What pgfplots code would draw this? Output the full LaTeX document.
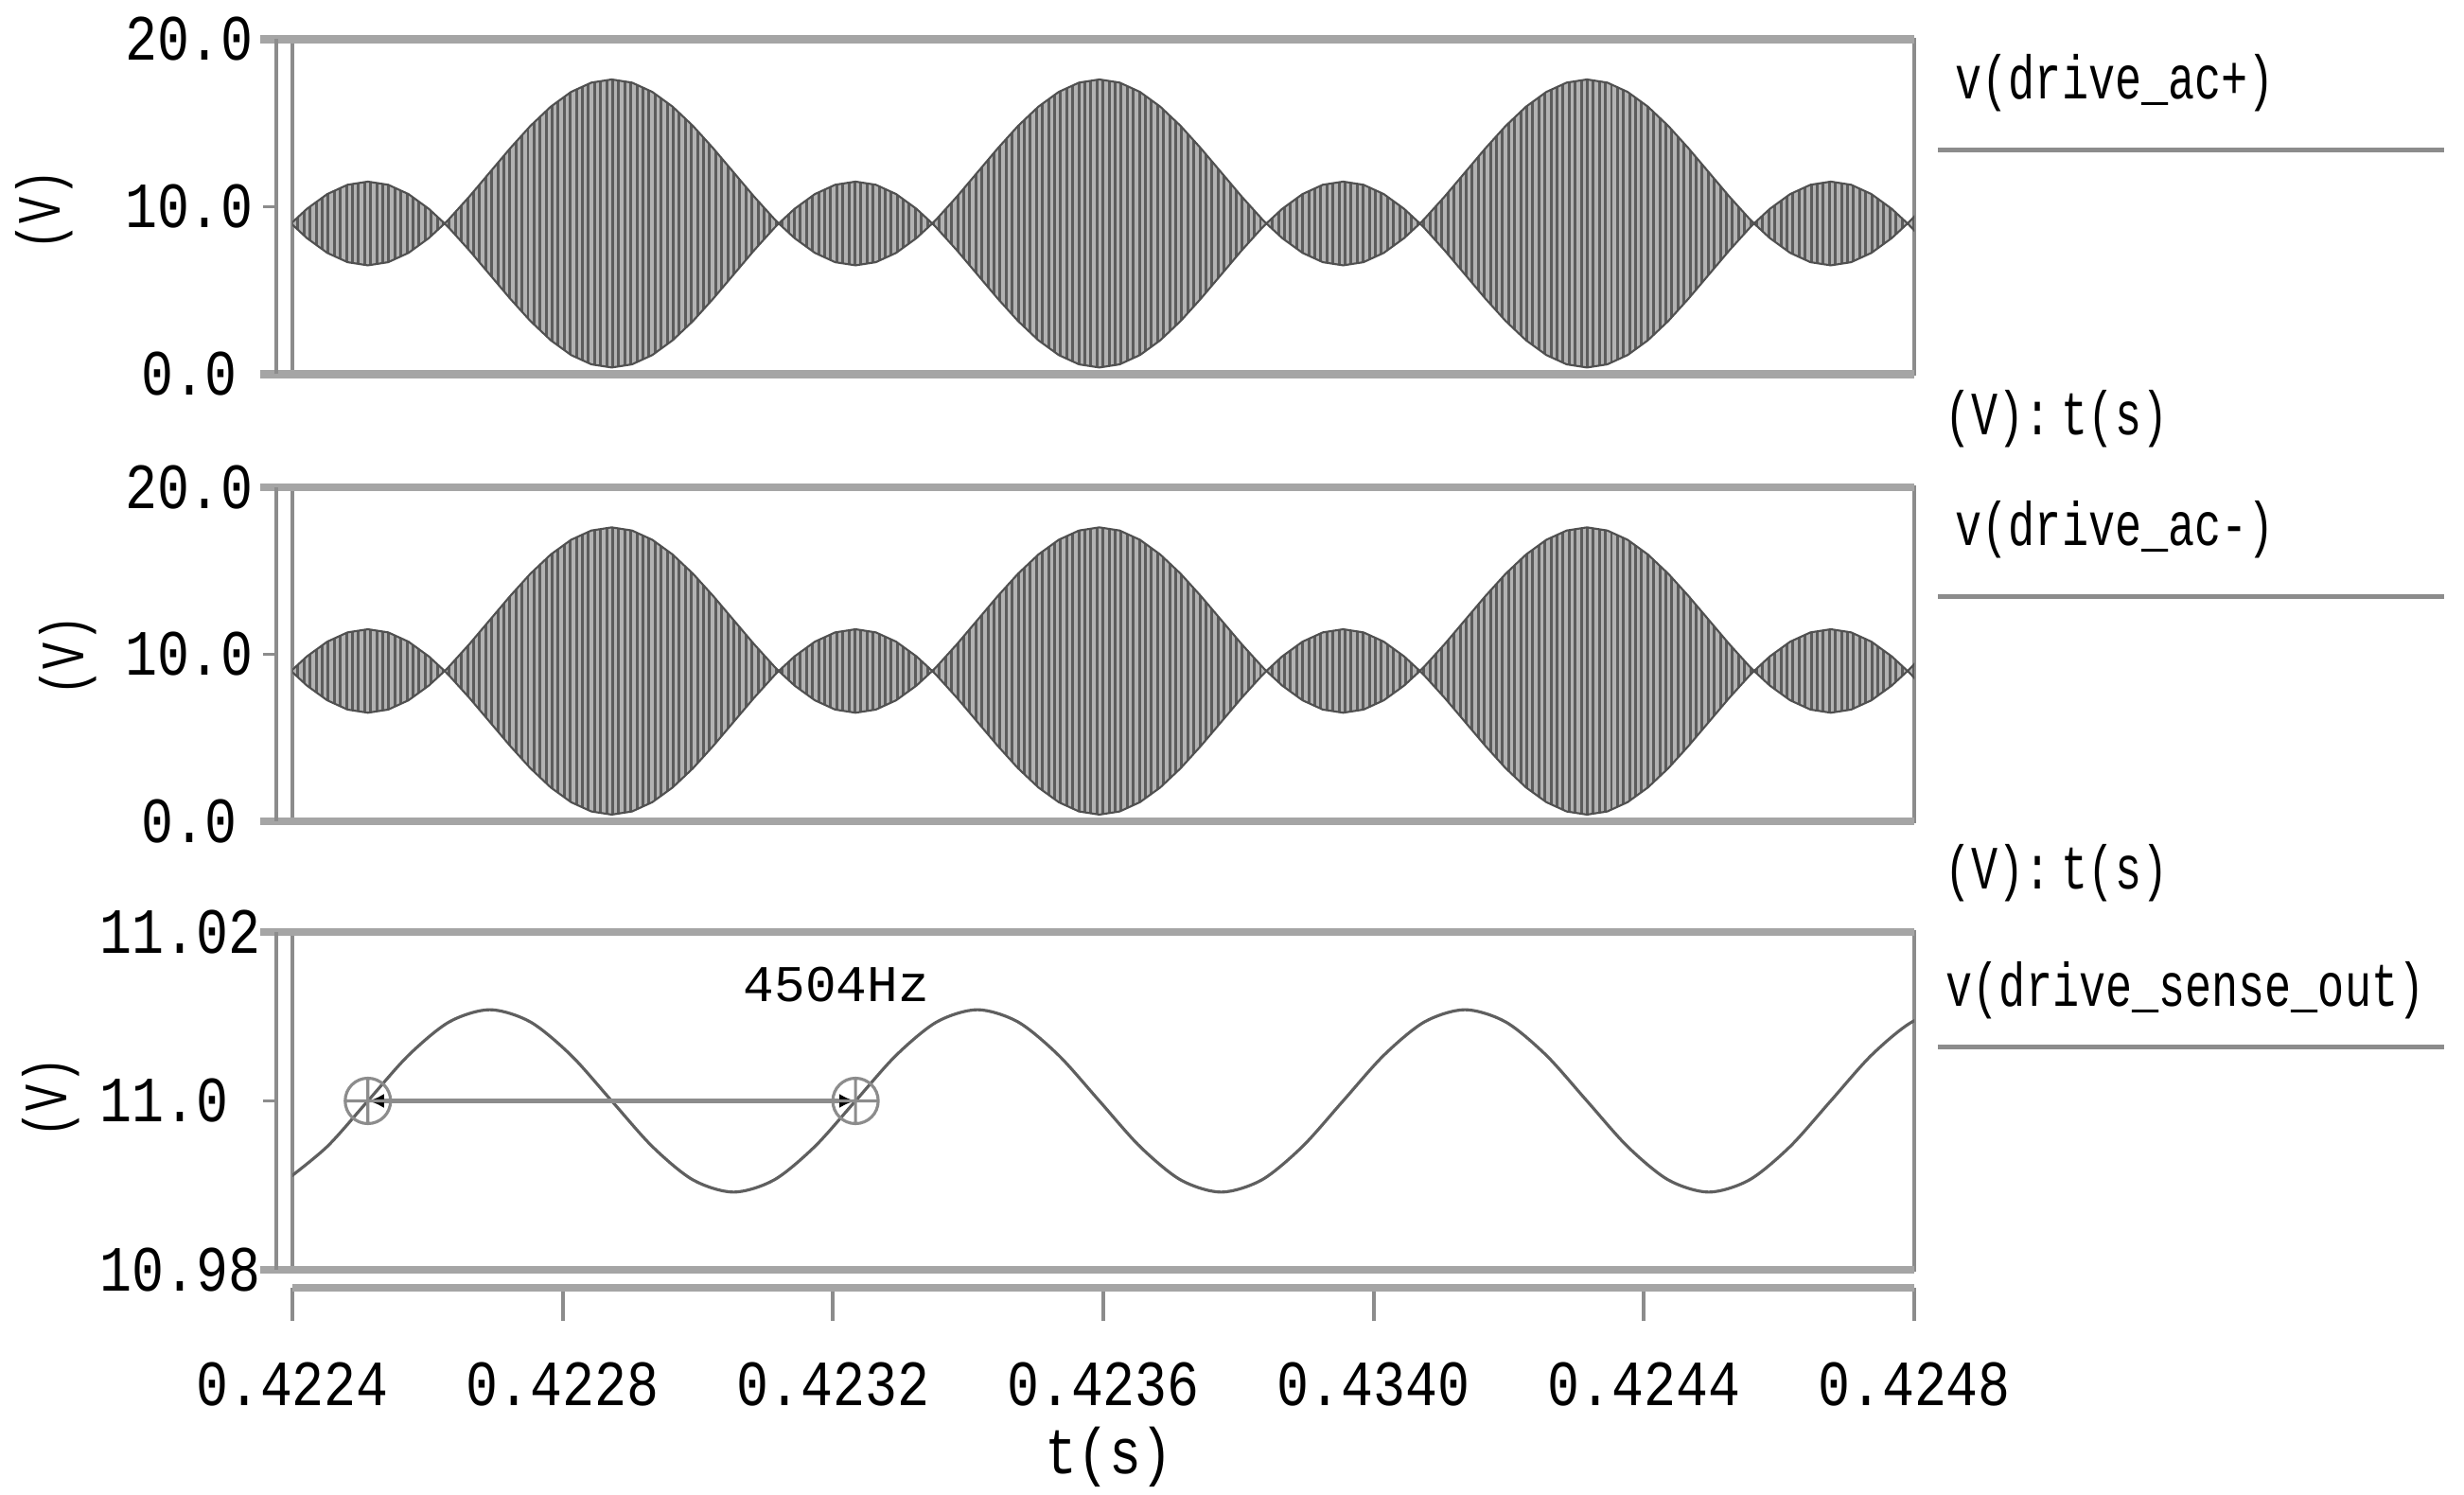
\documentclass[border=0pt]{standalone}
\usepackage{fontspec}
\usepackage{pgfplots}
\pgfplotsset{compat=1.18}
\usepackage{pgfplotstable}
\usepgfplotslibrary{fillbetween}
\usetikzlibrary{patterns,arrows.meta}

\newfontfamily\tickfont[FakeStretch=0.83]{Liberation Mono}
\newfontfamily\labfont[FakeStretch=0.72]{Liberation Mono}
\newfontfamily\hzfont{Liberation Mono}
\newcommand\tickf{\tickfont\fontsize{19.4pt}{22pt}\selectfont}
\newcommand\labf{\labfont\fontsize{18.5pt}{21pt}\selectfont}
\newcommand\hzf{\hzfont\fontsize{15.5pt}{18pt}\selectfont}

\definecolor{frameD}{RGB}{140,140,140}
\definecolor{bandC}{RGB}{165,165,165}
\definecolor{stripeL}{RGB}{178,178,178}
\definecolor{stripeD}{RGB}{92,92,92}
\definecolor{edgeC}{RGB}{80,80,80}
\definecolor{sineC}{RGB}{95,95,95}

% carrier drawn as thin vertical stripes
\pgfdeclarepatternformonly{vstripes}{\pgfqpoint{-0.1pt}{-0.1pt}}{\pgfqpoint{2pt}{1.1pt}}{\pgfqpoint{1.82pt}{1pt}}{%
  \pgfpathrectangle{\pgfqpoint{0pt}{-0.1pt}}{\pgfqpoint{0.85pt}{1.2pt}}\pgfusepath{fill}}

% envelope of v(drive_ac+/-): t in units of 0.1 ms after 0.4224 s, volts
\pgfplotstableread{
t up lo
-0.086 9.275 8.725
-0.019 9 9
0.215 9.874 8.126
0.516 10.756 7.244
0.816 11.311 6.689
1.117 11.5 6.5
1.418 11.311 6.689
1.718 10.756 7.244
2.019 9.874 8.126
2.253 9 9
2.320 9.275 8.725
2.620 10.614 7.386
2.921 12.05 5.95
3.222 13.486 4.514
3.522 14.825 3.175
3.823 15.974 2.026
4.124 16.856 1.144
4.424 17.411 0.589
4.725 17.6 0.4
5.026 17.411 0.589
5.326 16.856 1.144
5.627 15.974 2.026
5.928 14.825 3.175
6.228 13.486 4.514
6.529 12.05 5.95
6.830 10.614 7.386
7.130 9.275 8.725
7.197 9 9
7.431 9.874 8.126
7.732 10.756 7.244
8.032 11.311 6.689
8.333 11.5 6.5
8.634 11.311 6.689
8.934 10.756 7.244
9.235 9.874 8.126
9.469 9 9
9.536 9.275 8.725
9.836 10.614 7.386
10.137 12.05 5.95
10.438 13.486 4.514
10.738 14.825 3.175
11.039 15.974 2.026
11.340 16.856 1.144
11.640 17.411 0.589
11.941 17.6 0.4
12.242 17.411 0.589
12.542 16.856 1.144
12.843 15.974 2.026
13.144 14.825 3.175
13.444 13.486 4.514
13.745 12.05 5.95
14.046 10.614 7.386
14.346 9.275 8.725
14.413 9 9
14.647 9.874 8.126
14.948 10.756 7.244
15.248 11.311 6.689
15.549 11.5 6.5
15.850 11.311 6.689
16.150 10.756 7.244
16.451 9.874 8.126
16.685 9 9
16.752 9.275 8.725
17.052 10.614 7.386
17.353 12.05 5.95
17.654 13.486 4.514
17.954 14.825 3.175
18.255 15.974 2.026
18.556 16.856 1.144
18.856 17.411 0.589
19.157 17.6 0.4
19.458 17.411 0.589
19.758 16.856 1.144
20.059 15.974 2.026
20.360 14.825 3.175
20.660 13.486 4.514
20.961 12.05 5.95
21.262 10.614 7.386
21.562 9.275 8.725
21.629 9 9
21.863 9.874 8.126
22.164 10.756 7.244
22.464 11.311 6.689
22.765 11.5 6.5
23.066 11.311 6.689
23.366 10.756 7.244
23.667 9.874 8.126
23.901 9 9
23.968 9.275 8.725
24.268 10.614 7.386
}\env

% v(drive_sense_out): t as above, mV about 11.0 V
\pgfplotstableread{
t v
-0.086 -9.35
0.516 -5.4
1.117 0
1.718 5.4
2.320 9.35
2.921 10.8
3.522 9.35
4.124 5.4
4.725 0
5.326 -5.4
5.927 -9.35
6.529 -10.8
7.130 -9.35
7.731 -5.4
8.333 0
8.934 5.4
9.535 9.35
10.137 10.8
10.738 9.35
11.339 5.4
11.941 0
12.542 -5.4
13.143 -9.35
13.744 -10.8
14.346 -9.35
14.947 -5.4
15.548 0
16.150 5.4
16.751 9.35
17.352 10.8
17.954 9.35
18.555 5.4
19.156 0
19.757 -5.4
20.359 -9.35
20.960 -10.8
21.561 -9.35
22.163 -5.4
22.764 0
23.365 5.4
23.967 9.35
24.568 10.8
}\sense

\pgfplotsset{
  panel/.style={
    anchor=north west, scale only axis, width=17.14cm,
    xmin=0, xmax=24,
    axis line style={draw=frameD, line width=1pt},
    xtick=\empty, ytick pos=left,
    tick align=outside, major tick length=0.14cm,
    ytick style={draw=frameD, line width=1pt, xshift=-0.17cm},
    yticklabel style={font=\tickf, anchor=center, inner sep=0pt, xshift=-0.95cm},
  },
}

\begin{document}
\begin{tikzpicture}
% ---- v(drive_ac+)
\begin{axis}[panel, name=p1, at={(3.09cm,-0.415cm)}, height=3.54cm,
  ymin=0, ymax=20, ytick={0,10,20}, yticklabels={0.0,10.0,20.0}]
\addplot[name path=u1, draw=none] table[x=t,y=up]{\env};
\addplot[name path=l1, draw=none] table[x=t,y=lo]{\env};
\addplot[fill=stripeL] fill between[of=u1 and l1];
\addplot[pattern=vstripes, pattern color=stripeD] fill between[of=u1 and l1];
\addplot[edgeC, line width=0.6pt] table[x=t,y=up]{\env};
\addplot[edgeC, line width=0.6pt] table[x=t,y=lo]{\env};
\end{axis}

% ---- v(drive_ac-)
\begin{axis}[panel, name=p2, at={(3.09cm,-5.15cm)}, height=3.53cm,
  ymin=0, ymax=20, ytick={0,10,20}, yticklabels={0.0,10.0,20.0}]
\addplot[name path=u2, draw=none] table[x=t,y=up]{\env};
\addplot[name path=l2, draw=none] table[x=t,y=lo]{\env};
\addplot[fill=stripeL] fill between[of=u2 and l2];
\addplot[pattern=vstripes, pattern color=stripeD] fill between[of=u2 and l2];
\addplot[edgeC, line width=0.6pt] table[x=t,y=up]{\env};
\addplot[edgeC, line width=0.6pt] table[x=t,y=lo]{\env};
\end{axis}

% ---- v(drive_sense_out)
\begin{axis}[panel, name=p3, at={(3.09cm,-9.85cm)}, height=3.57cm,
  ymin=-20, ymax=20, ytick={-20,0,20}, yticklabels={10.98,11.0,11.02},
  yticklabel style={anchor=west, xshift=-0.95cm},
  xtick={0,4,8,12,16,20,24},
  xticklabels={0.4224,0.4228,0.4232,0.4236,0.4340,0.4244,0.4248},
  xtick pos=bottom,
  xtick style={draw=frameD, line width=1.2pt, yshift=-0.19cm, /pgfplots/major tick length=0.35cm},
  xticklabel style={font=\tickf, anchor=north, inner sep=0pt, yshift=-0.83cm}]
\addplot[sineC, line width=0.9pt, smooth] table[x=t,y=v]{\sense};
\addplot[frameD, line width=1.3pt,
  {Latex[black,length=0.17cm,width=0.15cm]}-{Latex[black,length=0.17cm,width=0.15cm]}]
  coordinates {(1.117,0) (8.333,0)};
\addplot[only marks, mark=oplus, mark size=0.24cm, draw=frameD, line width=0.9pt]
  coordinates {(1.117,0) (8.333,0)};
\end{axis}

% frame bands and outer left lines
\foreach \p in {p1,p2,p3}{
  \draw[bandC, line width=2.4pt] ([xshift=-0.34cm]\p.north west) -- (\p.north east);
  \draw[bandC, line width=2.4pt] ([xshift=-0.34cm]\p.south west) -- (\p.south east);
  \draw[frameD, line width=1pt] ([xshift=-0.17cm]\p.south west) -- ([xshift=-0.17cm]\p.north west);
}
\draw[bandC, line width=2.4pt] ([yshift=-0.19cm]p3.south west) -- ([yshift=-0.19cm]p3.south east);

% y labels
\node[rotate=90, font=\labf] at (0.47,-2.22) {(V)};
\node[rotate=90, font=\labf] at (0.72,-6.93) {(V)};
\node[rotate=90, font=\labf] at (0.54,-11.60) {(V)};

% trace names on the right
\node[anchor=base west, inner sep=0pt, font=\labf] at (20.66,-1.05) {v(drive\_ac+)};
\draw[frameD, line width=0.05cm] (20.48,-1.59) -- (25.83,-1.59);
\node[anchor=base west, inner sep=0pt, font=\labf] at (20.55,-4.60) {(V):\,t(s)};
\node[anchor=base west, inner sep=0pt, font=\labf] at (20.66,-5.77) {v(drive\_ac-)};
\draw[frameD, line width=0.05cm] (20.48,-6.31) -- (25.83,-6.31);
\node[anchor=base west, inner sep=0pt, font=\labf] at (20.55,-9.40) {(V):\,t(s)};
\node[anchor=base west, inner sep=0pt, font=\labf] at (20.56,-10.63) {v(drive\_sense\_out)};
\draw[frameD, line width=0.05cm] (20.48,-11.06) -- (25.83,-11.06);

\node[font=\hzf] at (8.84,-10.41) {4504Hz};
\node[anchor=base, inner sep=0pt, font=\tickf] at (11.72,-15.57) {t(s)};

\pgfresetboundingbox
\path[use as bounding box] (0,0) rectangle (26.04,-15.80);
\end{tikzpicture}
\end{document}
